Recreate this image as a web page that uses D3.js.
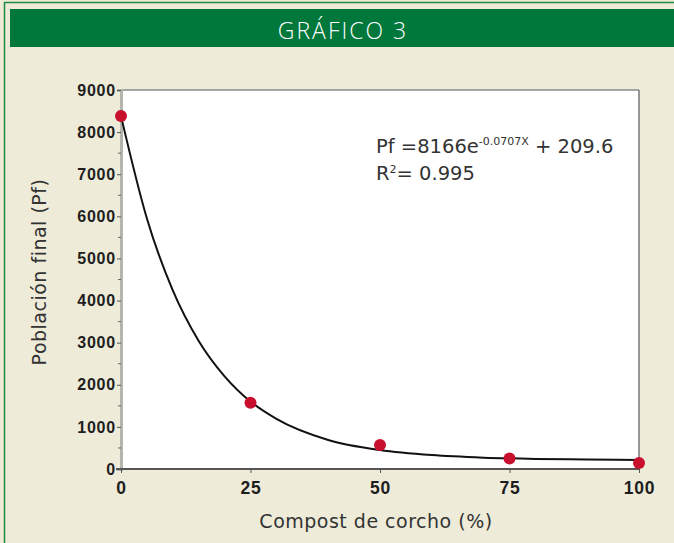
<!DOCTYPE html>
<html>
<head>
<meta charset="utf-8">
<script src="https://cdn.jsdelivr.net/npm/d3@7"></script>
<style>
  html, body { margin: 0; padding: 0; background: #eeebd9; }
  svg { display: block; font-family: "Liberation Sans", Arial, sans-serif; }
  .lbl { font-family: "DejaVu Sans", sans-serif; }
</style>
</head>
<body>
<div id="chart"></div>
<script>
// measured points
const compost = [0, 25, 50, 75, 100];
const poblacion = [8380, 1575, 570, 250, 140];

// fitted curve
const curveX = [0, 5, 10, 15, 20, 25, 30, 40, 50, 60, 70, 80, 90, 100];
const curveY = [8380, 5950, 4240, 3040, 2200, 1600, 1190, 690, 450, 330, 270, 240, 225, 215];

const xTicks = [0, 25, 50, 75, 100];
const yTicks = [0, 1000, 2000, 3000, 4000, 5000, 6000, 7000, 8000, 9000];

const width = 674, height = 543;
const margin = { top: 90, right: 35, bottom: 74, left: 121 };

const svg = d3.select("#chart").append("svg")
    .attr("width", width)
    .attr("height", height);

// page frame + header
svg.append("rect").attr("x", 4.5).attr("y", 2.5).attr("width", width + 10).attr("height", height + 10)
    .attr("fill", "#eeebd9").attr("stroke", "#1f8a45").attr("stroke-width", 1.5);
svg.append("rect").attr("x", 10).attr("y", 9).attr("width", width).attr("height", 38)
    .attr("fill", "#00773b");
svg.append("text").attr("x", 343).attr("y", 39).attr("text-anchor", "middle")
    .attr("fill", "#fff").style("font-size", "23px").style("font-weight", 300)
    .style("letter-spacing", "2px")
    .style("font-family", "'Open Sans', sans-serif").text("GRÁFICO 3");

const innerW = width - margin.left - margin.right;
const innerH = height - margin.top - margin.bottom;

const x = d3.scaleLinear().domain([0, 100]).range([margin.left, margin.left + innerW]);
const y = d3.scaleLinear().domain([0, 9000]).range([margin.top + innerH, margin.top]);

// plot area
svg.append("rect").attr("x", x(0)).attr("y", y(9000))
    .attr("width", x(100) - x(0)).attr("height", y(0) - y(9000))
    .attr("fill", "#fff");
svg.append("line").attr("x1", x(0) - 4).attr("x2", x(100)).attr("y1", y(9000)).attr("y2", y(9000))
    .attr("stroke", "#8a8a8a").attr("stroke-width", 1.5);
svg.append("line").attr("x1", x(100)).attr("x2", x(100)).attr("y1", y(9000)).attr("y2", y(0))
    .attr("stroke", "#777").attr("stroke-width", 1.5);

// y axis
const yAxis = svg.append("g")
    .attr("transform", `translate(${x(0)},0)`)
    .call(d3.axisLeft(y).tickValues(yTicks).tickSize(4).tickFormat(d3.format("d")));
yAxis.select(".domain").attr("stroke", "#b5b5b0").attr("stroke-width", 3);
yAxis.selectAll(".tick line").attr("stroke", "#555");
yAxis.selectAll(".tick text").attr("x", -5)
    .style("font-size", "16px").style("font-weight", "bold").style("letter-spacing", "0.8px")
    .attr("fill", "#1e1e1e");
// minor ticks
svg.append("g").selectAll("line")
    .data(yTicks.slice(0, -1).map(d => d + 500))
    .join("line")
    .attr("x1", x(0) - 3).attr("x2", x(0))
    .attr("y1", d => y(d)).attr("y2", d => y(d))
    .attr("stroke", "#666");

// x axis
const xAxis = svg.append("g")
    .attr("transform", `translate(0,${y(0)})`)
    .call(d3.axisBottom(x).tickValues(xTicks).tickSize(4).tickSizeOuter(0));
xAxis.select(".domain").attr("stroke", "#555").attr("stroke-width", 2)
    .attr("d", `M${x(0) - 5},0H${x(100)}`);
xAxis.selectAll(".tick line").attr("stroke", "#555");
xAxis.selectAll(".tick text").attr("y", 13)
    .style("font-size", "17.5px").style("font-weight", "bold").style("letter-spacing", "0.8px")
    .attr("fill", "#1e1e1e");

// axis titles
svg.append("text").attr("class", "lbl").attr("x", 376).attr("y", 528).attr("text-anchor", "middle")
    .style("font-size", "19px").style("letter-spacing", "0.5px")
    .attr("fill", "#333").text("Compost de corcho (%)");
svg.append("text").attr("class", "lbl").attr("transform", "translate(46,272) rotate(-90)")
    .attr("text-anchor", "middle")
    .style("font-size", "19px").style("letter-spacing", "0.5px")
    .attr("fill", "#333").text("Población final (Pf)");

// fitted curve
const line = d3.line()
    .x((d, i) => x(curveX[i]))
    .y(d => y(d))
    .curve(d3.curveMonotoneX);
svg.append("path").datum(curveY)
    .attr("d", line)
    .attr("fill", "none").attr("stroke", "#111").attr("stroke-width", 2);

// points
svg.append("g").selectAll("circle")
    .data(poblacion)
    .join("circle")
    .attr("cx", (d, i) => x(compost[i]))
    .attr("cy", d => y(d))
    .attr("r", 6)
    .attr("fill", "#c8102e");

// equation
const eq = svg.append("text").attr("class", "lbl").attr("x", 376).attr("y", 153)
    .style("font-size", "19.5px").attr("fill", "#333");
eq.append("tspan").text("Pf =8166e");
eq.append("tspan").attr("dy", -8).style("font-size", "11px").text("-0.0707X");
eq.append("tspan").attr("dy", 8).text(" + 209.6");
const r2 = svg.append("text").attr("class", "lbl").attr("x", 376).attr("y", 180)
    .style("font-size", "19.5px").attr("fill", "#333");
r2.append("tspan").text("R");
r2.append("tspan").attr("dy", -7).style("font-size", "11px").text("2");
r2.append("tspan").attr("dy", 7).text("= 0.995");
</script>
</body>
</html>
